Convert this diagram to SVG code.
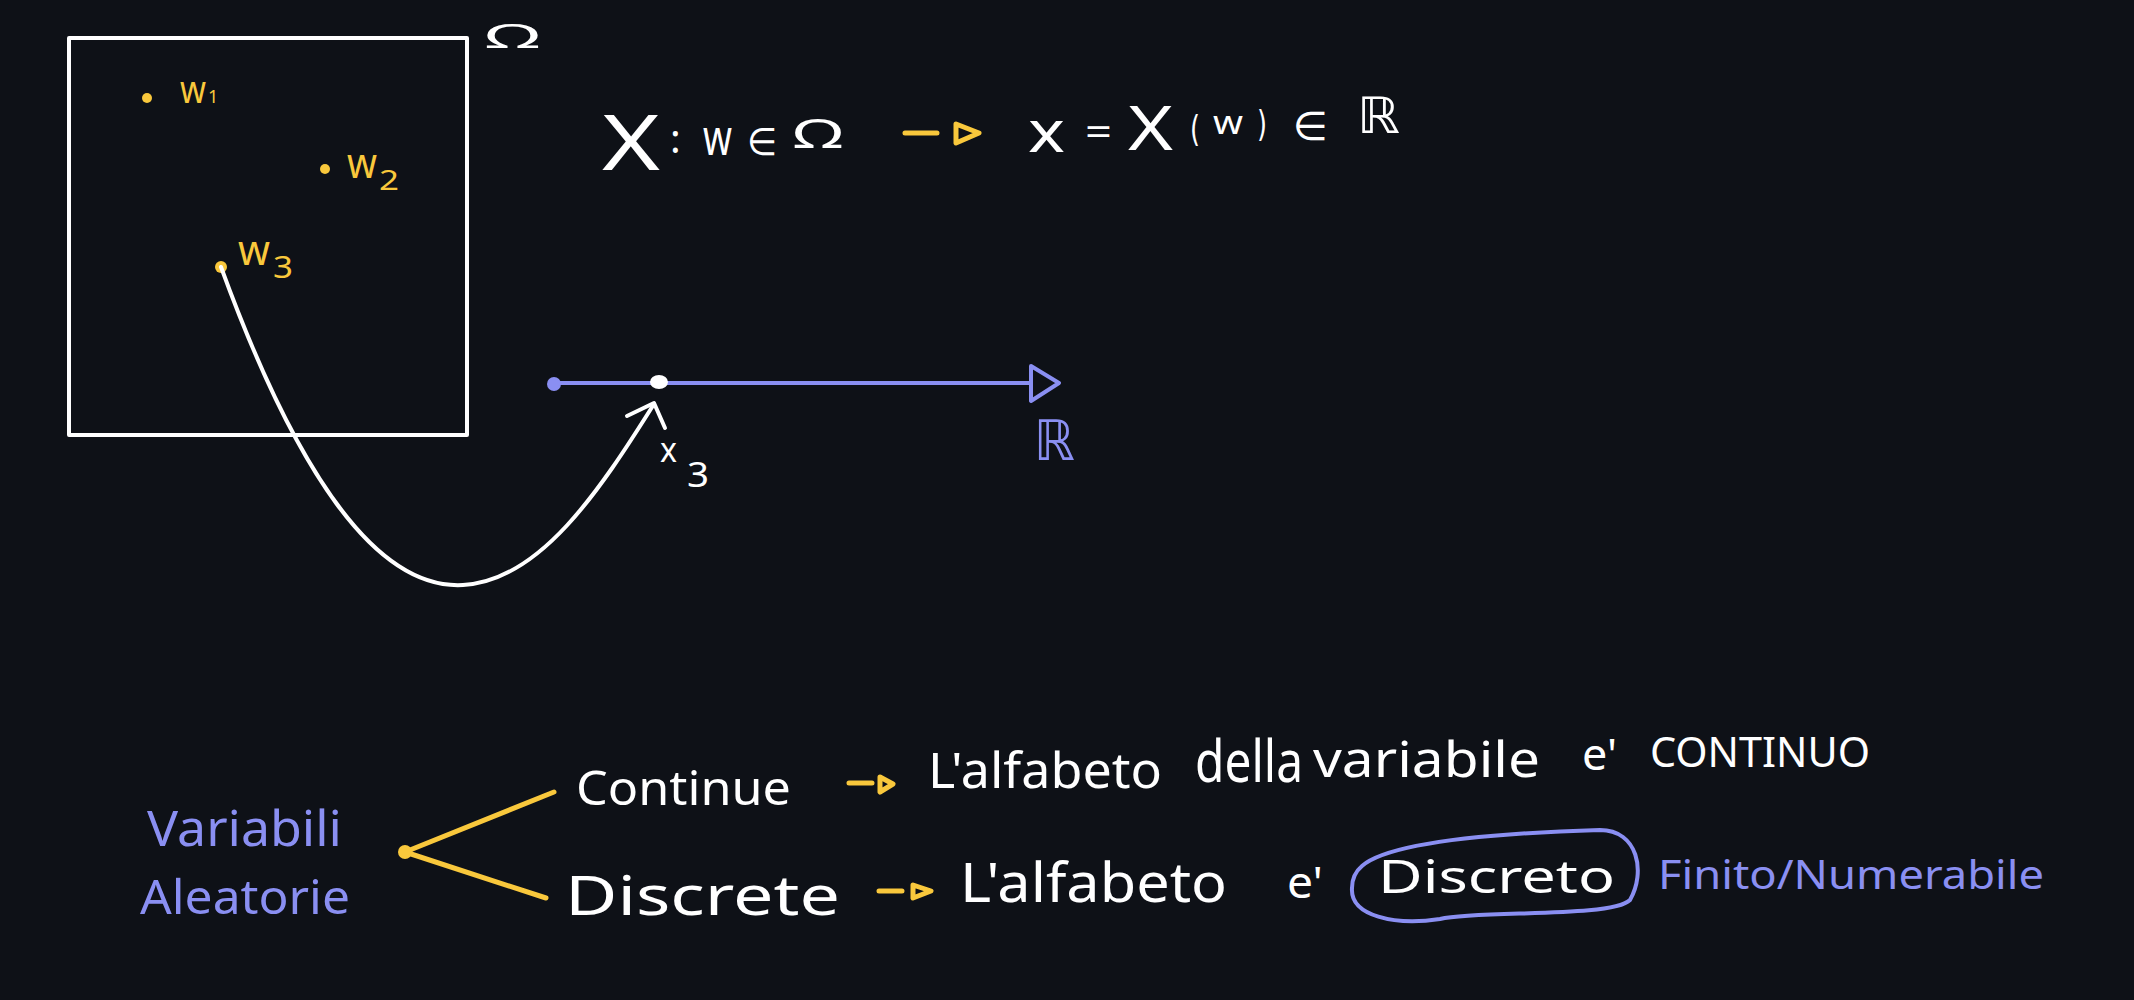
<svg xmlns="http://www.w3.org/2000/svg" width="2134" height="1000" viewBox="0 0 2134 1000">
<style>
.bg{fill:#0e1117}
.t{font-family:"Noto Sans","DejaVu Sans",sans-serif;fill:#ffffff}
.m{font-family:"DejaVu Sans","Noto Sans",sans-serif;fill:#ffffff}
.y{fill:#f9c83c}
.p{fill:#8a8ff2}
.ws{fill:none;stroke:#ffffff;stroke-width:4;stroke-linecap:round;stroke-linejoin:round}
.ys{fill:none;stroke:#f9c83c;stroke-width:5;stroke-linecap:round;stroke-linejoin:round}
.ps{fill:none;stroke:#8a8ff2;stroke-width:4;stroke-linecap:round;stroke-linejoin:round}
</style>
<rect class="bg" x="0" y="0" width="2134" height="1000"/>

<g id="omega-set">
  <rect class="ws" x="69" y="38" width="398" height="397"/>
  <text class="t" x="485" y="48" font-size="32" textLength="55" lengthAdjust="spacingAndGlyphs">Ω</text>
</g>

<g id="w1">
  <circle class="y" cx="147" cy="98" r="5"/>
  <text class="t y" x="180" y="103" font-size="38" textLength="26" lengthAdjust="spacingAndGlyphs">w</text>
  <text class="t y" x="208" y="103" font-size="18">1</text>
</g>
<g id="w2">
  <circle class="y" cx="325" cy="169" r="5"/>
  <text class="t y" x="347" y="178" font-size="42" textLength="30" lengthAdjust="spacingAndGlyphs">w</text>
  <text class="t y" x="379" y="190" font-size="28" textLength="20" lengthAdjust="spacingAndGlyphs">2</text>
</g>
<g id="w3">
  <circle class="y" cx="221" cy="267" r="6"/>
  <text class="t y" x="238" y="265" font-size="42" textLength="32" lengthAdjust="spacingAndGlyphs">w</text>
  <text class="t y" x="273" y="278" font-size="30" textLength="20" lengthAdjust="spacingAndGlyphs">3</text>
</g>

<g id="formula">
  <text class="t" x="602" y="170" font-size="76" textLength="58" lengthAdjust="spacingAndGlyphs">X</text>
  <text class="t" x="670" y="153" font-size="40">:</text>
  <text class="t" x="703" y="155" font-size="50" textLength="29" lengthAdjust="spacingAndGlyphs">w</text>
  <text class="m" x="747" y="155" font-size="38" textLength="30" lengthAdjust="spacingAndGlyphs">∈</text>
  <text class="t" x="793" y="148" font-size="40" textLength="50" lengthAdjust="spacingAndGlyphs">Ω</text>
  <path class="ys" d="M905 133 H937 M956 124 L979 133 L956 143 Z"/>
  <text class="t" x="1028" y="152" font-size="58" textLength="37" lengthAdjust="spacingAndGlyphs">x</text>
  <text class="t" x="1085" y="146" font-size="40" textLength="27" lengthAdjust="spacingAndGlyphs">=</text>
  <text class="t" x="1128" y="150" font-size="62" textLength="45" lengthAdjust="spacingAndGlyphs">X</text>
  <text class="m" x="1190" y="141" font-size="36" textLength="10" lengthAdjust="spacingAndGlyphs">(</text>
  <text class="t" x="1213" y="134" font-size="32" textLength="30" lengthAdjust="spacingAndGlyphs">w</text>
  <text class="m" x="1257" y="136" font-size="36" textLength="10" lengthAdjust="spacingAndGlyphs">)</text>
  <text class="m" x="1293" y="140" font-size="40" textLength="35" lengthAdjust="spacingAndGlyphs">∈</text>
  <text class="m" x="1357" y="133" font-size="50" textLength="43" lengthAdjust="spacingAndGlyphs">ℝ</text>
</g>

<g id="real-line">
  <path class="ps" d="M554 383 H1031 M1031 366 L1059 383 L1031 401 Z"/>
  <circle class="p" cx="554" cy="384" r="7"/>
  <ellipse cx="659" cy="382" rx="9" ry="7" fill="#ffffff"/>
  <text class="m p" x="1034" y="460" font-size="56" textLength="41" lengthAdjust="spacingAndGlyphs">ℝ</text>
  <text class="t" x="660" y="462" font-size="34" textLength="17" lengthAdjust="spacingAndGlyphs">x</text>
  <text class="t" x="687" y="487" font-size="34" textLength="22" lengthAdjust="spacingAndGlyphs">3</text>
</g>

<g id="connectors">
  <path class="ws" d="M221 267 C295 470 375 590 463 585 C540 581 600 490 654 404"/>
  <path class="ws" d="M627 416 L654 403 L665 428"/>
  <path class="ys" d="M405 852 L554 792 M405 852 L546 898"/>
</g>

<g id="variabili-aleatorie">
  <circle class="y" cx="405" cy="852" r="7"/>
  <text class="t p" x="147" y="846" font-size="50" textLength="195" lengthAdjust="spacingAndGlyphs">Variabili</text>
  <text class="t p" x="140" y="914" font-size="48" textLength="210" lengthAdjust="spacingAndGlyphs">Aleatorie</text>
</g>

<g id="continue">
  <text class="t" x="576" y="805" font-size="48" textLength="215" lengthAdjust="spacingAndGlyphs">Continue</text>
  <path class="ys" d="M849 783 H872 M880 777 L893 784 L880 792 Z"/>
  <text class="t" x="928" y="788" font-size="50" textLength="234" lengthAdjust="spacingAndGlyphs">L'alfabeto</text>
  <text class="t" x="1195" y="782" font-size="58" textLength="108" lengthAdjust="spacingAndGlyphs">della</text>
  <text class="t" x="1313" y="777" font-size="50" textLength="227" lengthAdjust="spacingAndGlyphs">variabile</text>
  <text class="t" x="1582" y="770" font-size="44" textLength="35" lengthAdjust="spacingAndGlyphs">e'</text>
  <text class="t" x="1650" y="767" font-size="41" textLength="220" lengthAdjust="spacingAndGlyphs">CONTINUO</text>
</g>

<g id="discrete">
  <text class="t" x="565" y="915" font-size="54" textLength="275" lengthAdjust="spacingAndGlyphs">Discrete</text>
  <path class="ys" d="M879 891 H902 M913 885 L931 891 L913 898 Z"/>
  <text class="t" x="960" y="902" font-size="54" textLength="267" lengthAdjust="spacingAndGlyphs">L'alfabeto</text>
  <text class="t" x="1287" y="898" font-size="44" textLength="36" lengthAdjust="spacingAndGlyphs">e'</text>
  <path class="ps" d="M1362 866 C1390 842 1500 833 1600 830 C1638 830 1646 872 1630 900 C1612 918 1480 910 1440 919 C1395 926 1350 916 1352 888 C1352 878 1356 871 1362 866 Z"/>
  <text class="t" x="1378" y="893" font-size="46" textLength="237" lengthAdjust="spacingAndGlyphs">Discreto</text>
  <text class="t p" x="1658" y="889" font-size="40" textLength="386" lengthAdjust="spacingAndGlyphs">Finito/Numerabile</text>
</g>
</svg>
